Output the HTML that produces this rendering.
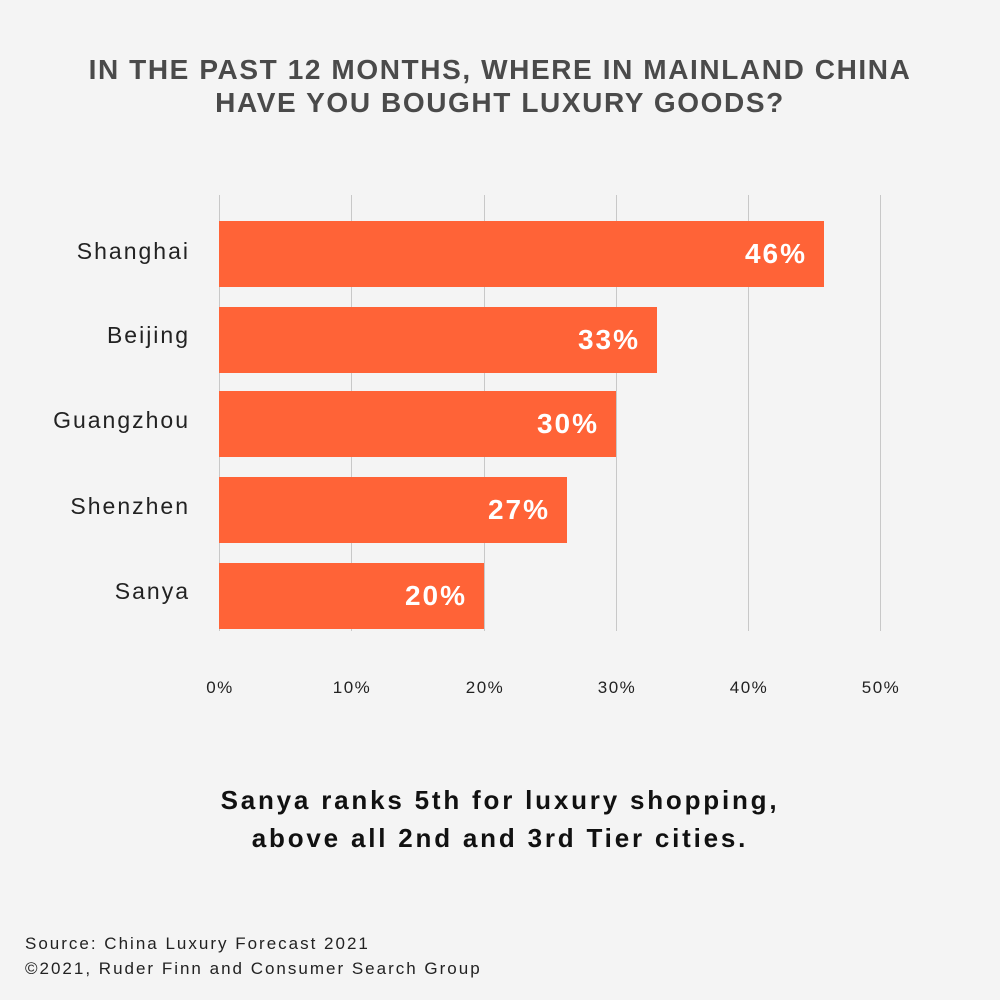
<!DOCTYPE html>
<html><head><meta charset="utf-8"><style>
html,body{margin:0;padding:0}
body{width:1000px;height:1000px;background:#f4f4f4;position:relative;overflow:hidden;font-family:"Liberation Sans",sans-serif}
.t{position:absolute;white-space:nowrap}
.title{left:0;width:1000px;text-align:center;font-weight:bold;font-size:28px;color:#4a4a4a;letter-spacing:1.6px}
.grid{position:absolute;top:195px;height:436px;width:1px;background:#c8c8c8}
.bar{position:absolute;left:219px;height:66px;background:#ff6337}
.bar span{position:absolute;right:17px;top:0;line-height:66px;color:#fff;font-weight:bold;font-size:28px;letter-spacing:2px}
.cat{position:absolute;right:810px;font-size:23px;color:#222;line-height:66px;letter-spacing:2px}
.tick{position:absolute;top:678px;font-size:17px;color:#222;width:80px;text-align:center;letter-spacing:1.5px}
.sub{left:0;width:1000px;text-align:center;font-weight:bold;font-size:26px;color:#111;letter-spacing:2.8px}
.src{left:25px;font-size:17px;color:#222;letter-spacing:2px}
</style></head><body>
<div class="t title" style="top:54px">IN THE PAST 12 MONTHS, WHERE IN MAINLAND CHINA</div>
<div class="t title" style="top:87px">HAVE YOU BOUGHT LUXURY GOODS?</div>

<div class="grid" style="left:219px"></div>
<div class="grid" style="left:351px"></div>
<div class="grid" style="left:484px"></div>
<div class="grid" style="left:616px"></div>
<div class="grid" style="left:748px"></div>
<div class="grid" style="left:880px"></div>

<div class="bar" style="top:221px;width:605px"><span>46%</span></div>
<div class="bar" style="top:307px;width:438px"><span>33%</span></div>
<div class="bar" style="top:391px;width:397px"><span>30%</span></div>
<div class="bar" style="top:477px;width:348px"><span>27%</span></div>
<div class="bar" style="top:563px;width:265px"><span>20%</span></div>

<div class="cat" style="top:218px">Shanghai</div>
<div class="cat" style="top:302px">Beijing</div>
<div class="cat" style="top:387px">Guangzhou</div>
<div class="cat" style="top:473px">Shenzhen</div>
<div class="cat" style="top:558px">Sanya</div>

<div class="tick" style="left:180px">0%</div>
<div class="tick" style="left:312px">10%</div>
<div class="tick" style="left:445px">20%</div>
<div class="tick" style="left:577px">30%</div>
<div class="tick" style="left:709px">40%</div>
<div class="tick" style="left:841px">50%</div>

<div class="t sub" style="top:785px">Sanya ranks 5th for luxury shopping,</div>
<div class="t sub" style="top:823px">above all 2nd and 3rd Tier cities.</div>

<div class="t src" style="top:934px">Source: China Luxury Forecast 2021</div>
<div class="t src" style="top:959px">©2021, Ruder Finn and Consumer Search Group</div>
</body></html>
